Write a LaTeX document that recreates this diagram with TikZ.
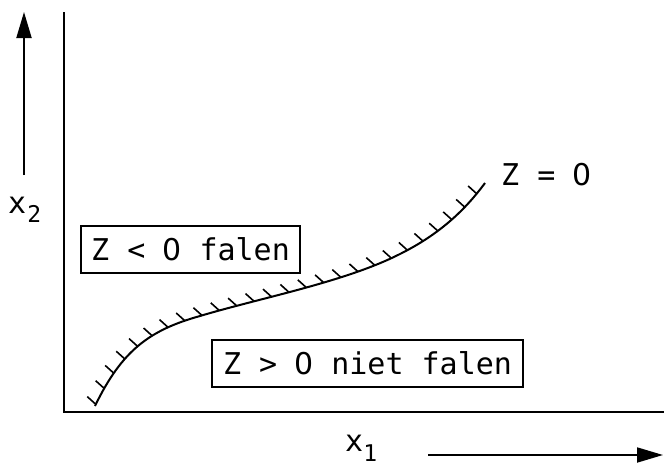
\documentclass[tikz,border=0pt]{standalone}
\usepackage{fontspec}
\setmonofont{DejaVu Sans Mono}
\newfontfamily\zerofont{DejaVu Sans}
\newcommand{\zr}{\makebox[0.602em]{\zerofont 0}}
\usetikzlibrary{arrows.meta,decorations.markings}
\begin{document}
\begin{tikzpicture}[x=1pt,y=1pt,
  axis/.style={line width=2pt},
  arr/.style={line width=1.8pt,-{Triangle[length=26pt,width=15pt]}},
  lbl/.style={font=\ttfamily\fontsize{30}{30}\selectfont, inner sep=0pt},
  regionbox/.style={draw,line width=1.4pt,font=\ttfamily\fontsize{30}{30}\selectfont,minimum height=47pt,inner sep=0pt},
  hatched/.style={line width=2pt,postaction={decorate},
    decoration={markings,mark=between positions 0.004 and 0.99 step 18pt with {\pgftransformresetnontranslations\draw[line width=1.6pt] (0,0) -- (138:11.5pt);}}}
]
\useasboundingbox (0,0) rectangle (664,-466);
% axes
\coordinate (ytop) at (64,-12);
\coordinate (o) at (64,-412);
\coordinate (xend) at (664,-412);
\draw[axis] (ytop) -- (o) -- (xend);
% axis arrows
\coordinate (a2s) at (24,-175);
\coordinate (a2e) at (24,-12);
\draw[arr] (a2s) -- (a2e);
\coordinate (a1s) at (428,-455);
\coordinate (a1e) at (663,-455);
\draw[arr] (a1s) -- (a1e);
% axis labels
\node[lbl,anchor=base west] (x2) at (8,-213) {x\hspace{1pt}\raisebox{-9pt}{\fontsize{23}{23}\selectfont 2}};
\node[lbl,anchor=base west] (x1) at (345,-451) {x\raisebox{-10pt}{\fontsize{23}{23}\selectfont 1}};
% limit state curve
\draw[hatched] (95,-406) .. controls (122,-350) and (150,-330) .. (200,-316)
  .. controls (260,-298) and (345,-282) .. (400,-254)
  .. controls (440,-234) and (465,-210) .. (485,-183);
\node[lbl,anchor=base west] (zlab) at (501,-185) {Z = \zr};
% regions
\node[regionbox,minimum width=219pt] (neg) at (190.5,-249.5) {Z < \zr{} falen};
\node[regionbox,minimum width=311pt] (pos) at (367.5,-363.5) {Z > \zr{} niet falen};
\end{tikzpicture}
\end{document}
